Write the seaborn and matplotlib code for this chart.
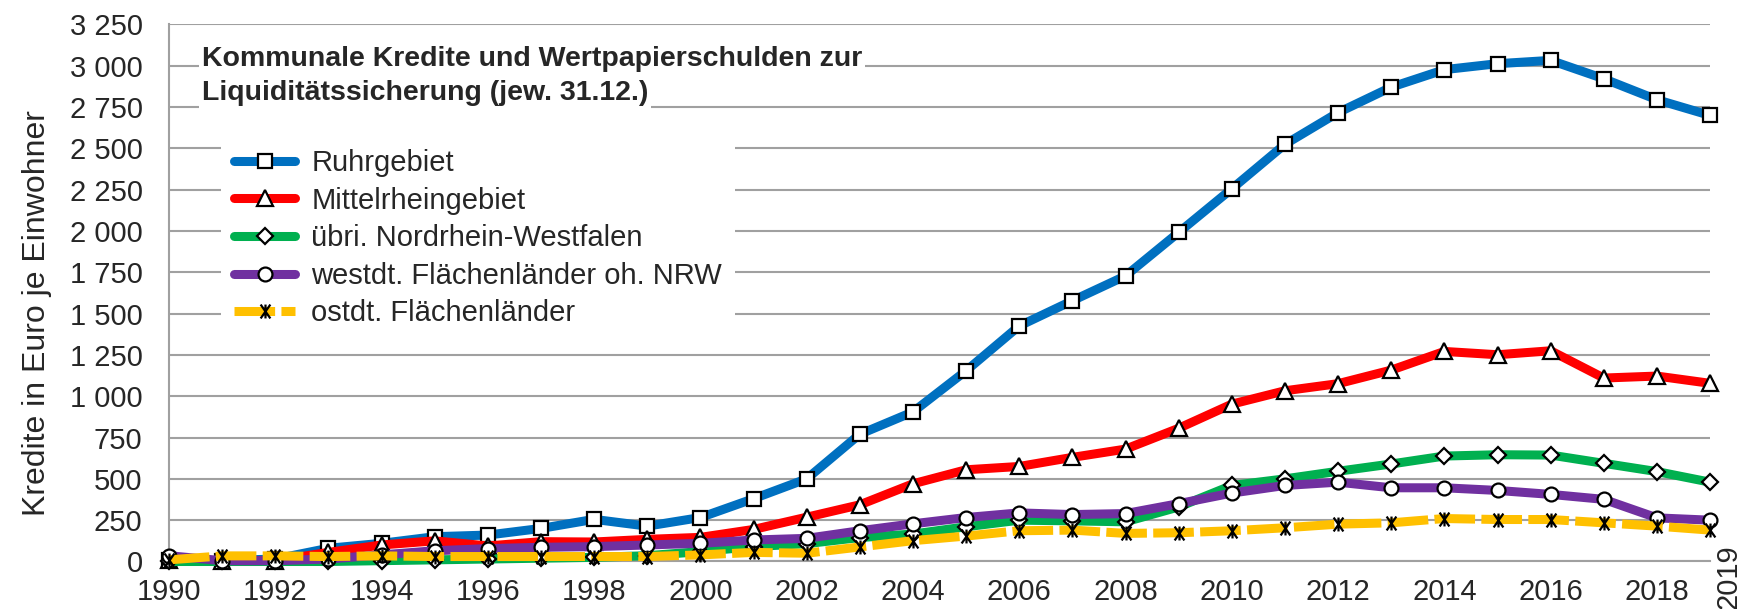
import numpy as np
import pandas as pd
import matplotlib
matplotlib.use("Agg")
import matplotlib.pyplot as plt
from matplotlib.path import Path
import seaborn as sns

# daten -------------------------------------------------------------------------------------------
years = list(range(1990, 2020))

ruhr = [10, 5, 15, 80, 110, 150, 160, 200, 255, 214, 266, 380, 500, 770, 905, 1154, 1425, 1578, 1728, 1991,
        2255, 2524, 2716, 2870, 2976, 3012, 3032, 2921, 2794, 2699]
mittelrhein = [10, 5, 5, 55, 100, 125, 94, 120, 118, 134, 146, 194, 268, 343, 470, 555, 575, 630, 680, 806,
               952, 1033, 1076, 1158, 1271, 1251, 1275, 1110, 1122, 1078]
uebri_nrw = [0, 0, 0, 0, 5, 10, 15, 20, 25, 35, 60, 90, 108, 145, 166, 210, 250, 246, 240, 330,
             460, 500, 546, 590, 638, 646, 644, 594, 544, 480]
westdt = [35, 5, 5, 15, 40, 65, 78, 86, 90, 100, 110, 130, 140, 186, 228, 266, 294, 284, 290, 350,
          414, 460, 480, 446, 446, 430, 406, 376, 264, 250]
ostdt = [10, 34, 34, 30, 34, 30, 30, 30, 30, 30, 40, 55, 50, 88, 126, 154, 186, 190, 170, 174,
         186, 204, 226, 234, 260, 254, 254, 234, 214, 190]

labels = ['Ruhrgebiet', 'Mittelrheingebiet', 'übri. Nordrhein-Westfalen',
          'westdt. Flächenländer oh. NRW', 'ostdt. Flächenländer']
series = [ruhr, mittelrhein, uebri_nrw, westdt, ostdt]

y_ticks = list(range(0, 3251, 250))
x_major = list(range(1990, 2019, 2))

# stil -------------------------------------------------------------------------------------------
sns.set_style("white")
plt.rcParams['font.family'] = ['Liberation Sans', 'DejaVu Sans']

farben = ['#0070C0', '#FF0000', '#00B050', '#7030A0', '#FFC000']
stern = Path([(0, -1), (0, 1), (-0.7, -1), (0.7, 1), (-0.7, 1), (0.7, -1)],
             [Path.MOVETO, Path.LINETO] * 3)
marker = ['s', '^', 'D', 'o', stern]
msize = [10, 11, 8, 10, 10]
grau = '#a0a0a0'
fs = 21

fig = plt.figure(figsize=(17.4, 6.09), dpi=100)
ax = fig.add_axes([0.0971, 0.078, 0.8857, 0.882])

for i, vals in enumerate(series):
    ls = (0, (4.5, 0.7)) if i == 4 else '-'
    sns.lineplot(x=years, y=vals, ax=ax, color=farben[i], linewidth=6.5, linestyle=ls,
                 marker=marker[i], markersize=msize[i],
                 markerfacecolor='none' if i == 4 else 'white',
                 markeredgecolor='black', markeredgewidth=1.6,
                 label=labels[i], clip_on=False, zorder=3 + i)

# achsen -------------------------------------------------------------------------------------------
ax.set_xlim(1990, 2019)
ax.set_ylim(0, 3250)
ax.set_yticks(y_ticks)
ax.set_yticklabels([f"{v:,}".replace(",", " ") for v in y_ticks])
ax.set_xticks(x_major)
ax.set_xticklabels([str(y) for y in x_major])
ax.set_xticks(years, minor=True)

ax.grid(axis='y', color=grau, linewidth=1.5)
ax.set_axisbelow(True)
for s in ['top', 'right']:
    ax.spines[s].set_visible(False)
for s in ['left', 'bottom']:
    ax.spines[s].set_color(grau)
    ax.spines[s].set_linewidth(1.5)

ax.tick_params(axis='y', length=7, width=1.5, color=grau, labelsize=fs, pad=12)
ax.tick_params(axis='x', which='both', length=5, width=1.5, color=grau, labelsize=fs, pad=7)

ax.annotate('2019', xy=(2019, 0), xytext=(18, -15), textcoords='offset pixels',
            rotation=90, ha='center', va='center', fontsize=fs, annotation_clip=False)

ax.set_xlabel('')
ax.set_ylabel('Kredite in Euro je Einwohner', fontsize=23)
ax.yaxis.set_label_coords(-0.076, 0.463)

# titel ------------------------------------------------------------------------------------------
box = dict(facecolor='white', edgecolor='none', pad=2)
fig.text(0.116, 0.903, 'Kommunale Kredite und Wertpapierschulden zur', fontsize=20.5,
         fontweight='bold', va='center', ha='left', bbox=box, zorder=10)
fig.text(0.116, 0.847, 'Liquiditätssicherung (jew. 31.12.)', fontsize=20.5,
         fontweight='bold', va='center', ha='left', bbox=box, zorder=10)

leg = ax.legend(loc='upper left', bbox_to_anchor=(0.127, 0.777), bbox_transform=fig.transFigure,
                frameon=True, fancybox=False, edgecolor='none', framealpha=1, fontsize=fs,
                handlelength=2.1, handletextpad=0.55, labelspacing=0.33, borderpad=0.45,
                borderaxespad=0)
leg.set_zorder(10)

fig.savefig('out.png', dpi=100)
